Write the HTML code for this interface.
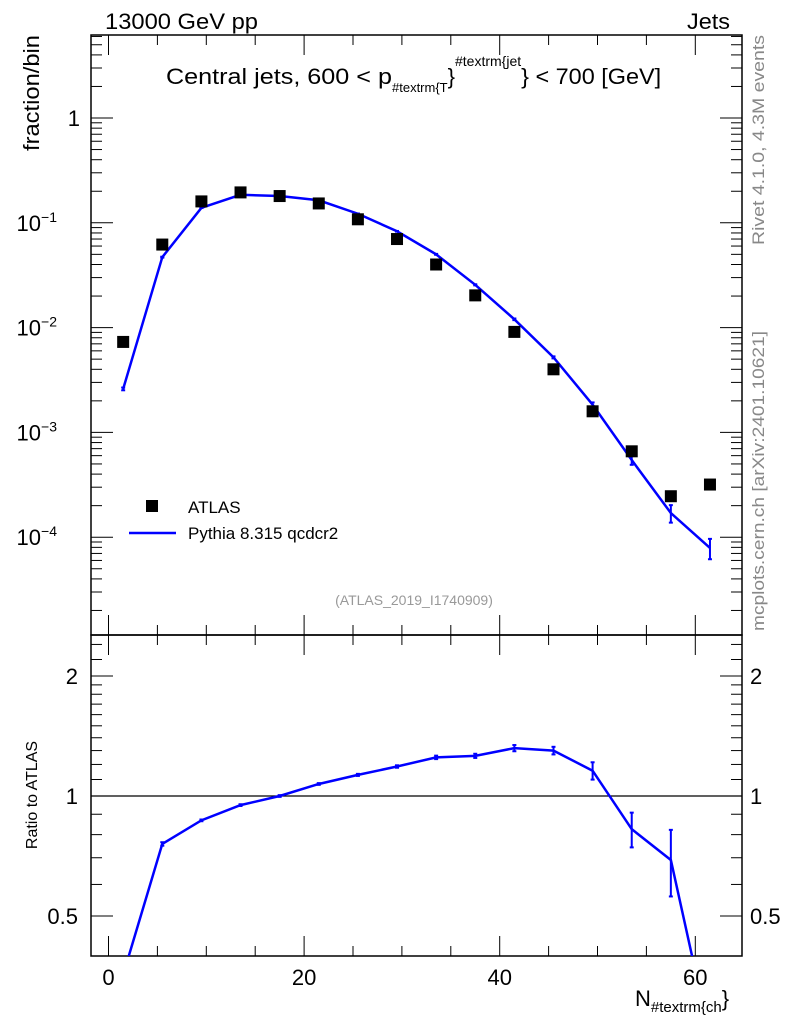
<!DOCTYPE html>
<html><head><meta charset="utf-8"><style>
html,body{margin:0;background:#fff;width:786px;height:1024px;overflow:hidden}
svg{display:block;font-family:"Liberation Sans",sans-serif}
</style></head><body>
<svg id="c" width="786" height="1024" viewBox="0 0 786 1024" xmlns="http://www.w3.org/2000/svg">
<g id="axes"></g>
<g id="marks"></g>
<text x="105" y="29" font-size="22" textLength="153" lengthAdjust="spacingAndGlyphs">13000 GeV pp</text>
<text x="687" y="29" font-size="22" textLength="43" lengthAdjust="spacingAndGlyphs">Jets</text>
<text x="166" y="84" font-size="22"><tspan textLength="226" lengthAdjust="spacingAndGlyphs">Central jets, 600 &lt; p</tspan><tspan font-size="13" dy="8">#textrm{T</tspan><tspan dy="-8">}</tspan><tspan font-size="14" dy="-18">#textrm{jet</tspan><tspan dy="18" textLength="140" lengthAdjust="spacingAndGlyphs">} &lt; 700 [GeV]</tspan></text>
<text transform="translate(39,35) rotate(-90)" font-size="22" text-anchor="end" textLength="116" lengthAdjust="spacingAndGlyphs">fraction/bin</text>
<text transform="translate(764,35) rotate(-90)" font-size="17" fill="#888" text-anchor="end" textLength="210" lengthAdjust="spacingAndGlyphs">Rivet 4.1.0,  4.3M events</text>
<text transform="translate(764,631) rotate(-90)" font-size="17" fill="#888" textLength="300" lengthAdjust="spacingAndGlyphs">mcplots.cern.ch [arXiv:2401.10621]</text>
<text x="414" y="605" font-size="14" fill="#999" text-anchor="middle">(ATLAS_2019_I1740909)</text>
<rect x="146" y="500" width="12" height="12" fill="#000"/>
<text x="188" y="513" font-size="17">ATLAS</text>
<line x1="129" y1="533" x2="176" y2="533" stroke="#00f" stroke-width="2.5"/>
<text x="188" y="539" font-size="17">Pythia 8.315 qcdcr2</text>
<text transform="translate(37,795) rotate(-90)" font-size="16" text-anchor="middle">Ratio to ATLAS</text>
<text x="635" y="1006" font-size="22">N<tspan font-size="15" dy="6">#textrm{ch</tspan><tspan dy="-6">}</tspan></text>
</svg>
<script>
const xCenters=[1.5,5.5,9.5,13.5,17.5,21.5,25.5,29.5,33.5,37.5,41.5,45.5,49.5,53.5,57.5,61.5];
const atlasVals=[0.0073,0.062,0.16,0.195,0.18,0.153,0.108,0.070,0.040,0.0203,0.0091,0.0040,0.00159,0.00066,0.000246,0.000318];
const mcVals=[0.0026,0.047,0.139,0.185,0.18,0.164,0.122,0.083,0.050,0.0256,0.012,0.0052,0.00184,0.000545,0.00017,0.000079];
const mcRelErr=[0.03,0.01,0.005,0.005,0.005,0.005,0.006,0.007,0.01,0.012,0.018,0.022,0.05,0.1,0.19,0.22];
const xTicks=[0,20,40,60];
const ratioTicks=[0.5,1,2];

const L=91,R=742,T=35,M=635,B=956;
const X=v=>108.5+v*9.78;
const Y=v=>118-104.8*Math.log10(v);
const YR=v=>796-120*Math.log2(v);
const NS="http://www.w3.org/2000/svg";
const ax=document.getElementById('axes'),mk=document.getElementById('marks');
function el(t,a,p){const e=document.createElementNS(NS,t);for(const k in a)e.setAttribute(k,a[k]);(p||ax).appendChild(e);return e;}
function ln(x1,y1,x2,y2,w,p,c){return el('line',{x1,y1,x2,y2,stroke:c||'#000','stroke-width':w||1},p);}

const f1=el('rect',{x:L,y:T,width:R-L,height:M-T,fill:'none',stroke:'#000','stroke-width':1.5});

const f2=el('rect',{x:L,y:M,width:R-L,height:B-M,fill:'none',stroke:'#000','stroke-width':1.5});


for(let v=0;v<=60;v+=5){const x=X(v),maj=v%20==0,l=maj?20:10;
 ln(x,M,x,M-l);ln(x,T,x,T+l);ln(x,B,x,B-l);ln(x,M,x,M+l);}
xTicks.forEach(v=>{const t=el('text',{x:X(v),y:985,'font-size':22,'text-anchor':'middle'});t.textContent=v;
 });
for(let e=-5;e<=0;e++){for(let m=1;m<10;m++){const v=m*Math.pow(10,e),y=Y(v);if(y<T||y>M)continue;const l=m==1?22:11;
 ln(L,y,L+l,y);ln(R,y,R-l,y);}}
const mainLabels=[[0,'1'],[-1,'10'],[-2,'10'],[-3,'10'],[-4,'10']];
mainLabels.forEach(([e,s])=>{const t=el('text',{x:e==0?80:64,y:Y(Math.pow(10,e))+8,'font-size':22,'text-anchor':'end'});t.textContent=s;
 if(e<0){const sp=el('tspan',{'font-size':14,dy:-9},t);sp.textContent='\u2212'+(-e);t.setAttribute('x',57);t.setAttribute('text-anchor','end');}
 });
[0.5,0.6,0.7,0.8,0.9,1,1.1,1.2,1.3,1.4,1.5,1.6,1.7,1.8,1.9,2,2.2,2.4].forEach(v=>{const y=YR(v);if(y<M||y>B)return;const maj=ratioTicks.includes(v),l=maj?22:11;
 ln(L,y,L+l,y);ln(R,y,R-l,y);});
ratioTicks.forEach(v=>{const y=YR(v)+8;
 const a=el('text',{x:78,y,'font-size':22,'text-anchor':'end'});a.textContent=v;
 const b=el('text',{x:750,y,'font-size':22});b.textContent=v;});
const one=ln(L,YR(1),R,YR(1),1.2);

const cp=el('clipPath',{id:'rc'});el('rect',{x:L,y:M,width:R-L,height:B-M},cp);
const cm=el('clipPath',{id:'mc'});el('rect',{x:L,y:T,width:R-L,height:M-T},cm);

const mp=el('polyline',{points:xCenters.map((x,i)=>X(x)+','+Y(mcVals[i])).join(' '),fill:'none',stroke:'#00f','stroke-width':2.5,'clip-path':'url(#mc)'},mk);

xCenters.forEach((x,i)=>{const y1=Y(mcVals[i]*(1+mcRelErr[i])),y2=Y(mcVals[i]*(1-mcRelErr[i]));
 const g=el('g',{},mk);
 ln(X(x),y1,X(x),y2,2,g,'#00f');ln(X(x)-2,y1,X(x)+2,y1,2,g,'#00f');ln(X(x)-2,y2,X(x)+2,y2,2,g,'#00f');});
xCenters.forEach((x,i)=>{const r=el('rect',{x:X(x)-6,y:Y(atlasVals[i])-6,width:12,height:12,fill:'#000'},mk);
 });
const ratio=xCenters.map((x,i)=>mcVals[i]/atlasVals[i]);
const rp=el('polyline',{points:xCenters.map((x,i)=>X(x)+','+YR(ratio[i])).join(' '),fill:'none',stroke:'#00f','stroke-width':2.5,'clip-path':'url(#rc)'},mk);

xCenters.forEach((x,i)=>{const y1=YR(ratio[i]*(1+mcRelErr[i])),y2=YR(ratio[i]*(1-mcRelErr[i]));
 const g=el('g',{'clip-path':'url(#rc)'},mk);
 ln(X(x),y1,X(x),y2,2,g,'#00f');ln(X(x)-2,y1,X(x)+2,y1,2,g,'#00f');ln(X(x)-2,y2,X(x)+2,y2,2,g,'#00f');});
</script>
</body></html>
